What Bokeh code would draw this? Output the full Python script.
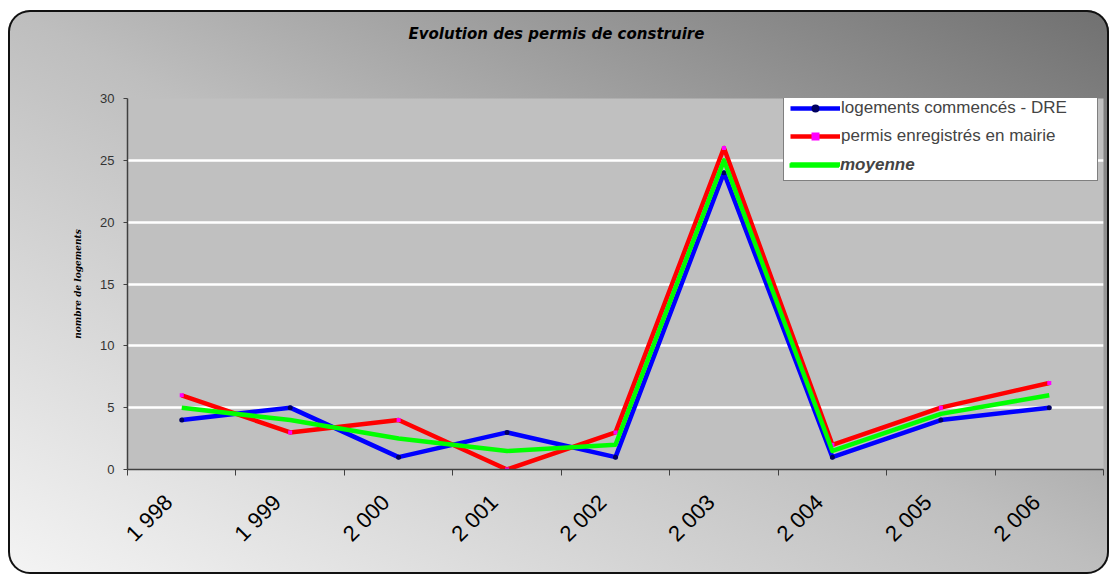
import math
from bokeh.plotting import figure
from bokeh.models import Range1d, LinearAxis, FixedTicker, Legend, LegendItem, Title
from bokeh.embed import file_html
from bokeh.resources import INLINE

# ---- data ----
years = ["1 998", "1 999", "2 000", "2 001", "2 002", "2 003", "2 004", "2 005", "2 006"]
logements_dre = [4, 5, 1, 3, 1, 24, 1, 4, 5]
permis_mairie = [6, 3, 4, 0, 3, 26, 2, 5, 7]
moyenne = [5, 4, 2.5, 1.5, 2, 25, 1.5, 4.5, 6]
y_ticks = [0, 5, 10, 15, 20, 25, 30]

title_text = "Evolution des permis de construire"
y_label = "nombre de logements"
series_labels = ["logements commencés - DRE", "permis enregistrés en mairie", "moyenne"]

xs = list(range(len(years)))

p = figure(width=1101, height=564, output_backend="svg", toolbar_location=None,
           x_range=Range1d(-0.5, len(years) - 0.5), y_range=Range1d(0, 30),
           min_border_left=119, min_border_right=6, min_border_top=88, min_border_bottom=105)

p.styles = {
    "margin-left": "8px",
    "margin-top": "10px",
    "background": "linear-gradient(to top right, #f4f4f4 0%, #bebebe 50%, #707070 100%)",
    "border-radius": "22px",
    "box-shadow": "inset 0 0 0 2px #111111",
}
p.border_fill_color = None
p.background_fill_color = "#c0c0c0"
p.outline_line_color = None

# spacer between the title and the plot area
p.add_layout(Title(text=" ", text_font_size="34px"), "above")

# title
p.title.text = title_text
p.title.align = "left"
p.title.offset = 281
p.title.vertical_align = "middle"
p.title.text_font = "DejaVu Sans"
p.title.text_font_style = "bold italic"
p.title.text_font_size = "15px"
p.title.text_color = "black"

# grid
p.xgrid.visible = False
p.ygrid.ticker = FixedTicker(ticks=y_ticks)
p.ygrid.grid_line_color = "white"
p.ygrid.grid_line_width = 2.5

# y axis
ya = p.yaxis[0]
ya.ticker = FixedTicker(ticks=y_ticks)
ya.major_tick_out = 4
ya.major_tick_in = 0
ya.minor_tick_line_color = None
ya.axis_line_color = "#404040"
ya.axis_line_width = 1.5
ya.major_tick_line_color = "#404040"
ya.major_label_text_font = "Liberation Sans"
ya.major_label_text_font_size = "13px"
ya.major_label_text_color = "#333333"
ya.major_label_standoff = 9
ya.axis_label = y_label
ya.axis_label_text_font = "DejaVu Serif"
ya.axis_label_text_font_style = "bold italic"
ya.axis_label_text_font_size = "9px"
ya.axis_label_text_color = "black"
ya.axis_label_standoff = 14

# x axis (ticks at category boundaries)
xa = p.xaxis[0]
xa.ticker = FixedTicker(ticks=[i - 0.5 for i in range(len(years) + 1)])
xa.major_label_overrides = {i - 0.5: "" for i in range(len(years) + 1)}
xa.major_label_text_font_size = "1px"
xa.major_label_standoff = 0
xa.major_tick_out = 6
xa.major_tick_in = 0
xa.minor_tick_line_color = None
xa.axis_line_color = "#404040"
xa.axis_line_width = 1.5
xa.major_tick_line_color = "#404040"

# x axis labels, slightly left of the category centres (as in the source)
label_pos = [i - 0.12 for i in xs]
la = LinearAxis(ticker=FixedTicker(ticks=label_pos),
                major_label_overrides={pos: y for pos, y in zip(label_pos, years)},
                major_label_orientation=math.pi / 4,
                axis_line_color=None, major_tick_line_color=None, minor_tick_line_color=None,
                major_label_text_font="Liberation Sans", major_label_text_font_size="22px",
                major_label_text_color="black", major_label_standoff=17)
p.add_layout(la, "below")

# series
r_blue = p.line(xs, logements_dre, line_color="#0000ff", line_width=4.5, line_join="round")
s_blue = p.scatter(xs, logements_dre, marker="circle", size=5, fill_color="#000060", line_color=None)
r_red = p.line(xs, permis_mairie, line_color="#ff0000", line_width=4.5, line_join="round")
s_red = p.scatter(xs, permis_mairie, marker="square", size=4, fill_color="#ff00ff", line_color=None)
r_green = p.line(xs, moyenne, line_color="#00ff00", line_width=4.5, line_join="round")

common = dict(location=(656, 288), margin=0, padding=6, spacing=8,
              glyph_width=50, glyph_height=20, label_height=20,
              label_standoff=1, label_text_font="Liberation Sans", label_text_font_size="17px",
              border_line_width=1)

legend = Legend(items=[LegendItem(label=series_labels[0], renderers=[r_blue, s_blue]),
                       LegendItem(label=series_labels[1], renderers=[r_red, s_red]),
                       LegendItem(label=" ", renderers=[r_green])],
                label_width=250,
                background_fill_color="white", background_fill_alpha=1.0,
                border_line_color="black", **common)
p.add_layout(legend)

legend2 = Legend(items=[LegendItem(label=series_labels[2], renderers=[r_green])],
                 background_fill_alpha=0.0, border_line_color="white", border_line_alpha=0.0,
                 label_text_font_style="bold italic", **common)
p.add_layout(legend2)

open("out.html", "w").write(file_html(p, INLINE))
